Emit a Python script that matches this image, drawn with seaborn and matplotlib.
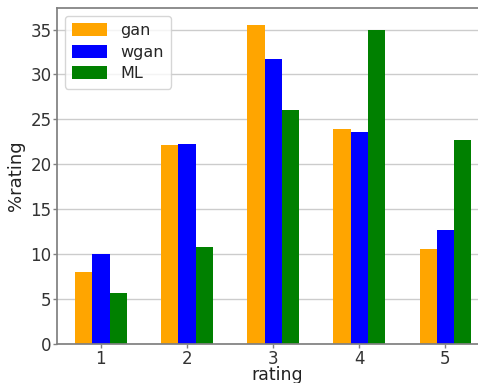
import numpy as np
import pandas as pd
import matplotlib
matplotlib.use("Agg")
import matplotlib.pyplot as plt
import seaborn as sns

ratings = ['1', '2', '3', '4', '5']
gan = [8.0, 22.1, 35.5, 23.9, 10.6]
wgan = [10.0, 22.3, 31.7, 23.6, 12.7]
ml = [5.7, 10.8, 26.1, 35.0, 22.7]
models = ['gan', 'wgan', 'ML']
colors = ['orange', 'blue', 'green']

df = pd.DataFrame({
    'rating': ratings * 3,
    'pct': gan + wgan + ml,
    'model': np.repeat(models, len(ratings)),
})

sns.set_theme(style="whitegrid")
plt.rcParams['font.family'] = ['DejaVu Sans']
plt.rcParams['axes.edgecolor'] = '#808080'
plt.rcParams['xtick.bottom'] = True
plt.rcParams['ytick.left'] = True
plt.rcParams['xtick.color'] = '#333333'
plt.rcParams['ytick.color'] = '#333333'

fig = plt.figure(figsize=(4.78, 3.83), dpi=100)
# right side of the axes runs off the figure, as in the original crop
ax = fig.add_axes([57 / 478, 39 / 383, 440 / 478, 336 / 383])
sns.barplot(data=df, x='rating', y='pct', hue='model', palette=colors,
            width=0.6, saturation=1, linewidth=0, ax=ax)

ax.set_xlim(-0.51, 4.6)
ax.set_ylim(0, 37.4)
ax.set_yticks(range(0, 36, 5))
ax.grid(axis='x', visible=False)
ax.grid(axis='y', color='#cccccc', lw=1)
ax.tick_params(labelsize=12, length=3, width=1, color='#808080', pad=1)
ax.set_xlabel('rating', fontsize=12.5, labelpad=-1, color='#222222')
ax.set_ylabel('%rating', fontsize=13, color='#222222')
ax.legend(loc='upper left', fontsize=11.5, handlelength=2.2, handleheight=0.9,
          labelspacing=0.4, borderpad=0.45, frameon=True)

fig.savefig('out.png', dpi=100)
